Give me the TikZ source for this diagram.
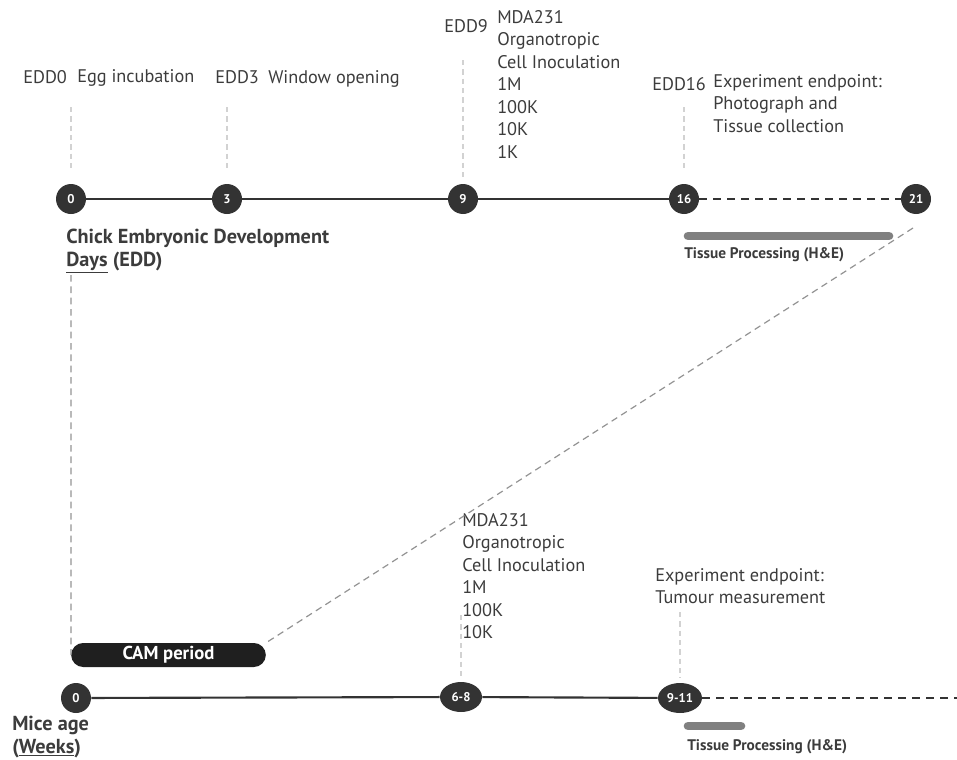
\documentclass[tikz,border=0pt]{standalone}
\usepackage{fontspec}
\setmainfont{PT Sans}
\usetikzlibrary{arrows.meta, positioning, shapes.geometric}
\definecolor{dark}{HTML}{333333}
\definecolor{txt}{HTML}{3C3C3C}
\definecolor{bar}{HTML}{808080}

\begin{document}
\begin{tikzpicture}[x=0.75pt, y=-0.75pt,
        day/.style={circle, fill=dark, text=white, inner sep=0pt, minimum size=22.5pt,
            font=\bfseries\fontsize{9.5}{10}\selectfont},
        week/.style={ellipse, fill=dark, text=white, inner sep=0pt, minimum height=22.5pt,
            minimum width=31.5pt, font=\bfseries\fontsize{9.5}{10}\selectfont},
        lbl/.style={text=txt, inner sep=0pt, align=left, font=\fontsize{13.7}{16.9}\selectfont},
        head/.style={lbl, font=\bfseries\fontsize{15.2}{16.9}\selectfont},
        small/.style={lbl, font=\bfseries\fontsize{11.5}{12}\selectfont},
        tick/.style={gray!35, line width=0.8pt, dash pattern=on 4pt off 3pt, shorten >=9pt},
        axis/.style={dark, line width=1.6pt},
        later/.style={axis, dash pattern=on 6pt off 4.5pt},
        link/.style={gray!85, line width=0.9pt, dash pattern=on 5pt off 3.5pt},
        proc/.style={bar, line width=6.5pt, line cap=round}]
        \useasboundingbox (0,0) rectangle (957,760);

        % chick embryo timeline
        \node (d0) [day] at (71,199) {0};
        \node (d3) [day] at (227,199) {3};
        \node (d9) [day] at (463,199) {9};
        \node (d16) [day] at (684,199) {16};
        \node (d21) [day] at (916,199) {21};

        \node (e0) [lbl, anchor=west] at (23,77) {EDD0};
        \node (e0t) [lbl, anchor=west] at (77,78) {Egg incubation};
        \node (e3) [lbl, anchor=west] at (215,77) {EDD3};
        \node (e3t) [lbl, anchor=west] at (268,79) {Window opening};
        \node (e9) [lbl, anchor=west] at (444,26) {EDD9};
        \node (e9t) [lbl, anchor=north west] at (497,10)
            {MDA231\\Organotropic\\Cell Inoculation\\1M\\100K\\10K\\1K};
        \node (e16) [lbl, anchor=west] at (652,84) {EDD16};
        \node (e16t) [lbl, anchor=north west] at (713,74)
            {Experiment endpoint:\\Photograph and\\Tissue collection};
        \node (chick) [head, anchor=north west] at (66,229)
            {Chick Embryonic Development\\\underline{Days} (EDD)};
        \node (tp1) [small, anchor=west] at (684,255) {Tissue Processing (H\&E)};

        \coordinate (t0) at (71,107);
        \coordinate (t3) at (227,107);
        \coordinate (t9) at (463,60);
        \coordinate (t16) at (684,107);

        % mouse timeline
        \node (w0) [day] at (76,698) {0};
        \node (w6) [week] at (461,697) {6-8};
        \node (w9) [week, minimum width=33pt] at (680,698) {9-11};
        \coordinate (wend) at (957,698);

        \node (cam) [rounded corners=9pt, fill=black!88, text=white, minimum width=146pt,
            minimum height=18pt, inner sep=0pt, font=\bfseries\fontsize{14}{14}\selectfont]
            at (168.5,655) {CAM period};

        \node (m6t) [lbl, anchor=north west] at (462,513)
            {MDA231\\Organotropic\\Cell Inoculation\\1M\\100K\\10K};
        \node (m9t) [lbl, anchor=north west] at (655,568)
            {Experiment endpoint:\\Tumour measurement};
        \node (tp2) [small, anchor=west] at (687,747) {Tissue Processing (H\&E)};
        \node (mice) [head, anchor=north west] at (12,716)
            {Mice age\\(\underline{Weeks})};

        \coordinate (t6) at (461,615);
        \coordinate (t911) at (680,612);
        \coordinate (chk) at (71,275);
        \coordinate (c21) at (913,228);

        % connectors
        \draw [tick] (t0) -- (d0);
        \draw [tick] (t3) -- (d3);
        \draw [tick, shorten >=4pt] (t9) -- (d9);
        \draw [tick] (t16) -- (d16);
        \draw [tick, shorten >=4pt] (t6) -- (w6);
        \draw [tick, shorten >=4pt] (t911) -- (w9);

        \draw [axis] (d0) -- (d3) -- (d9) -- (d16);
        \draw [later] (d16) -- (d21);
        \draw [axis] (w0) -- (w6) -- (w9);
        \draw [later] (w9) -- (wend);

        \draw [link] (chk) -- (cam.west);
        \draw [link] (c21) -- (cam.north east);

        \draw [proc] (688,236) -- (889,236);
        \draw [proc] (688,726) -- (741,726);
\end{tikzpicture}
\end{document}
